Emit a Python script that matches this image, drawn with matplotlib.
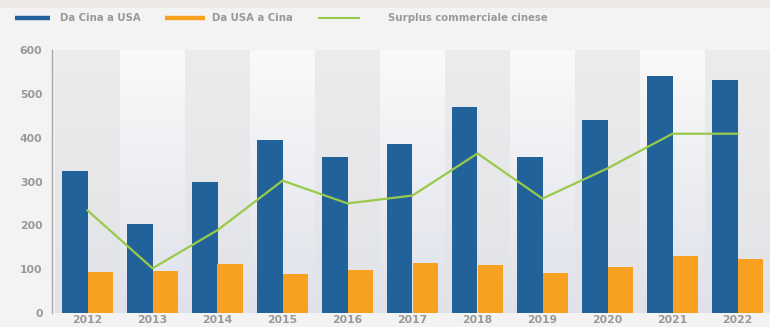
import numpy as np
import matplotlib
matplotlib.use('Agg')
import matplotlib.pyplot as plt
from matplotlib.patches import Rectangle
from matplotlib.lines import Line2D

years = ['2012', '2013', '2014', '2015', '2016', '2017', '2018', '2019', '2020', '2021', '2022']
cina_usa = [325, 202, 300, 395, 355, 386, 470, 355, 441, 541, 532]
usa_cina = [93, 95, 111, 89, 98, 114, 109, 91, 104, 129, 123]
surplus = [234, 102, 189, 302, 250, 268, 364, 261, 330, 409, 409]

BLUE = '#22629a'
ORANGE = '#f8a01f'
GREEN = '#99c94a'
TXT = '#999999'
W, H = 770, 327

plt.rcParams['font.family'] = ['DejaVu Sans']

fig = plt.figure(figsize=(W / 100, H / 100), dpi=100)
fig.patch.set_facecolor('#f3f3f3')
# thin strip along the top edge
fig.patches.append(Rectangle((0, 1 - 8 / H), 1, 8 / H, transform=fig.transFigure,
                             facecolor='#ede8e6', edgecolor='none', zorder=0))

ax = fig.add_axes([55 / W, 14 / H, 715 / W, 263 / H])
x = np.arange(len(years))
n = len(years)

# vertical gradient behind the plot, near white at the top to pale grey-blue at the bottom
grad = np.linspace(0, 1, 256).reshape(-1, 1)
c_top = np.array([0.98, 0.98, 0.98])
c_bot = np.array([0.875, 0.885, 0.92])
img = c_top + (c_bot - c_top) * grad[..., None]
ax.imshow(img, extent=(-0.5, n - 0.5, 0, 600), origin='upper', aspect='auto', zorder=0)

# shaded bands behind alternate years
b_top = np.array([0.925, 0.925, 0.925])
b_bot = np.array([0.885, 0.89, 0.905])
band = b_top + (b_bot - b_top) * grad[..., None]
for i in range(0, n, 2):
    ax.imshow(band, extent=(i - 0.5, i + 0.5, 0, 600), origin='upper', aspect='auto', zorder=0.5)
ax.set_ylim(0, 600)
ax.set_xlim(-0.5, n - 0.5)

w = 0.39
ax.bar(x - w / 2, cina_usa, w, color=BLUE, zorder=2)
ax.bar(x + w / 2, usa_cina, w, color=ORANGE, zorder=2)
ax.plot(x, surplus, color=GREEN, lw=1.6, zorder=3)

for s in ['top', 'right', 'bottom']:
    ax.spines[s].set_visible(False)
ax.spines['left'].set_color('#a8a8a8')
ax.spines['left'].set_linewidth(1.0)
ax.spines['left'].set_position(('outward', 2))

ax.set_yticks(range(0, 601, 100))
ax.set_xticks(x)
ax.set_xticklabels(years)
ax.tick_params(axis='both', length=0, labelsize=7.8, labelcolor=TXT)
ax.tick_params(axis='y', pad=7)
ax.tick_params(axis='x', pad=1.5)
for t in ax.get_xticklabels() + ax.get_yticklabels():
    t.set_fontweight('bold')

# legend row across the top
labels = ['Da Cina a USA', 'Da USA a Cina', 'Surplus commerciale cinese']
colors = [BLUE, ORANGE, GREEN]
widths = [3.2, 3.2, 1.5]
handle_x = [(15, 50), (165, 205), (318, 360)]
text_x = [60, 212, 388]
ly = 1 - 18 / H
for lab, c, lw, (x0, x1), tx in zip(labels, colors, widths, handle_x, text_x):
    fig.add_artist(Line2D([x0 / W, x1 / W], [ly, ly], transform=fig.transFigure,
                          color=c, lw=lw, solid_capstyle='butt'))
    fig.text(tx / W, ly, lab, fontsize=7.3, color=TXT, fontweight='bold',
             ha='left', va='center')

fig.savefig('out.png', dpi=100, facecolor=fig.get_facecolor())
